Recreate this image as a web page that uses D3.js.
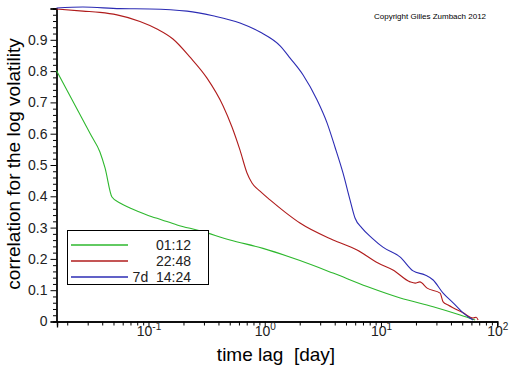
<!DOCTYPE html>
<html>
<head>
<meta charset="utf-8">
<script src="https://cdn.jsdelivr.net/npm/d3@7"></script>
<style>
  body { margin: 0; background: #fff; }
  text { font-family: "Liberation Sans", Arial, sans-serif; }
</style>
</head>
<body>
<div class="chart"></div>
<script>
// data: [lag in days, correlation]
const seriesNames = ["01:12", "22:48", "7d  14:24"]
const seriesColors = ["#2eb82e", "#b01c1c", "#2c2cb4"]

const green = [
  [0.01633, 0.800], [0.0323, 0.594], [0.0386, 0.540], [0.0427, 0.489], [0.0490, 0.396],
  [0.0574, 0.377], [0.0700, 0.361], [0.098, 0.339], [0.132, 0.323], [0.178, 0.307],
  [0.280, 0.288], [0.508, 0.259], [0.976, 0.232], [2.03, 0.193], [3.91, 0.153],
  [7.67, 0.110], [14.8, 0.0735], [28.4, 0.0457], [48.5, 0.0192], [65.2, 0.003]
]
const red = [
  [0.01633, 0.997], [0.0276, 0.990], [0.0386, 0.986], [0.0541, 0.978], [0.0853, 0.957],
  [0.1195, 0.933], [0.164, 0.901], [0.230, 0.843], [0.322, 0.776], [0.442, 0.688],
  [0.528, 0.620], [0.619, 0.546], [0.711, 0.473],
  [0.785, 0.441], [0.920, 0.415], [1.122, 0.387], [1.51, 0.348], [2.03, 0.313],
  [3.91, 0.259], [6.29, 0.227], [9.53, 0.185], [12.8, 0.163], [18.0, 0.125],
  [19.9, 0.121], [21.8, 0.125], [25.2, 0.105], [32.6, 0.089], [34.6, 0.061],
  [38.2, 0.051], [51.4, 0.026], [62.7, 0.0096], [66.5, 0.012], [69.2, 0.003]
]
const blue = [
  [0.01633, 1.000], [0.0276, 1.003], [0.0574, 0.998], [0.104, 0.997], [0.217, 0.990],
  [0.362, 0.975], [0.619, 0.952], [0.920, 0.923], [1.37, 0.879], [1.67, 0.840],
  [2.16, 0.786], [2.85, 0.706], [3.47, 0.633], [4.06, 0.556], [4.76, 0.473],
  [5.47, 0.387], [6.04, 0.329], [6.94, 0.297], [8.47, 0.265], [10.5, 0.236],
  [14.8, 0.204], [19.1, 0.160], [24.2, 0.147], [28.4, 0.131], [34.6, 0.089],
  [42.2, 0.058], [51.4, 0.026], [62.7, 0.003]
]
const allSeries = [green, red, blue]

const yMajor = [0, 0.1, 0.2, 0.3, 0.4, 0.5, 0.6, 0.7, 0.8, 0.9, 1.0]
const yLabels = ["0", "0.1", "0.2", "0.3", "0.4", "0.5", "0.6", "0.7", "0.8", "0.9", ""]
const xMajor = [0.1, 1, 10, 100]
const xExp = ["-1", "0", "1", "2"]

const w = 512
const h = 366

const svg = d3.select(".chart")
  .append("svg")
  .attr("width", w)
  .attr("height", h)

// scales
const xScale = d3.scaleLog()
  .domain([0.01633, 100])
  .range([56.5, 496.7])

const yScale = d3.scaleLinear()
  .domain([0, 1])
  .range([321, 8])

// minor ticks
const yMinor = d3.range(0, 1.001, 0.02).filter(v => Math.abs(v * 10 - Math.round(v * 10)) > 1e-6)
const xMinor = []
for (let e = -2; e < 2; e++) {
  for (let m = 2; m <= 9; m++) {
    const v = m * Math.pow(10, e)
    if (v >= 0.01633) xMinor.push(v)
  }
}

const axisG = svg.append("g").attr("transform", "translate(0.5,0.5)")

axisG.append("g")
  .attr("transform", "translate(56,0)")
  .call(d3.axisLeft(yScale).tickValues(yMinor).tickSize(3.5).tickFormat(""))
axisG.append("g")
  .attr("transform", "translate(56,0)")
  .call(d3.axisLeft(yScale).tickValues(yMajor).tickSize(6).tickPadding(3)
    .tickFormat((d, i) => yLabels[i]))

axisG.append("g")
  .attr("transform", "translate(0,321)")
  .call(d3.axisBottom(xScale).tickValues(xMinor).tickSize(4).tickFormat(""))
const xg = axisG.append("g")
  .attr("transform", "translate(0,321)")
  .call(d3.axisBottom(xScale).tickValues(xMajor).tickSize(6).tickFormat(""))

axisG.selectAll(".domain").attr("stroke", "#000").attr("stroke-width", 1.3)
axisG.selectAll(".tick line").attr("stroke", "#000")
axisG.selectAll(".tick text").style("font-size", "14px").attr("fill", "#222")

xg.selectAll(".tick").append("text")
  .attr("class", "xlab")
  .attr("fill", "#222")
  .attr("text-anchor", "middle")
  .style("font-size", "14px")
  .each(function (d, i) {
    const t = d3.select(this)
    t.append("tspan").attr("y", 14).text("10")
    t.append("tspan").attr("dy", -6).style("font-size", "10px").text(xExp[i])
  })

// curves
const line = d3.line()
  .curve(d3.curveMonotoneX)
  .x(d => xScale(d[0]))
  .y(d => yScale(d[1]))

svg.selectAll(".curve")
  .data(allSeries)
  .enter()
  .append("path")
  .attr("class", "curve")
  .attr("d", line)
  .attr("fill", "none")
  .attr("stroke", (d, i) => seriesColors[i])
  .attr("stroke-width", 1.1)

// legend
const lg = svg.append("g")
lg.append("rect")
  .attr("x", 67.5).attr("y", 230.5)
  .attr("width", 141).attr("height", 54)
  .attr("fill", "#fff").attr("stroke", "#000")

seriesNames.forEach((name, i) => {
  const yy = 245 + i * 16
  lg.append("line")
    .attr("x1", 71).attr("x2", 128)
    .attr("y1", yy).attr("y2", yy)
    .style("stroke", seriesColors[i])
    .style("stroke-width", 1.3)
  lg.append("text")
    .attr("x", 191).attr("y", yy + 5)
    .attr("text-anchor", "end")
    .attr("fill", "#222")
    .style("white-space", "pre")
    .style("font-size", "14px")
    .text(name)
})

// titles
svg.append("text")
  .attr("x", 276).attr("y", 361)
  .attr("text-anchor", "middle")
  .style("font-size", "19px")
  .style("white-space", "pre")
  .text("time lag  [day]")

svg.append("text")
  .attr("transform", "translate(20,164) rotate(-90)")
  .attr("text-anchor", "middle")
  .style("font-size", "19px")
  .text("correlation for the log volatility")

svg.append("text")
  .attr("x", 430).attr("y", 19)
  .attr("text-anchor", "middle")
  .style("font-size", "8px")
  .text("Copyright Gilles Zumbach 2012")
</script>
</body>
</html>
